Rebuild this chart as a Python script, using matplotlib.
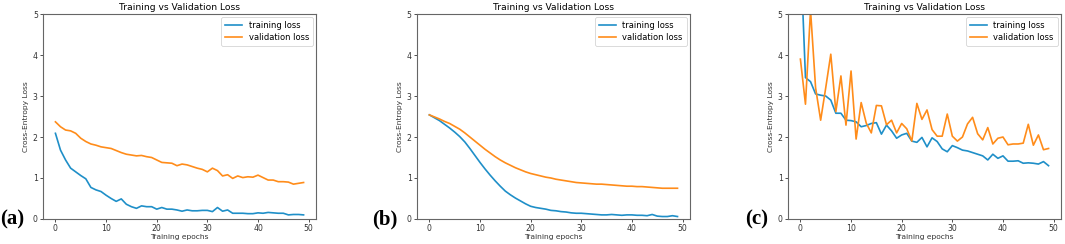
import numpy as np
import matplotlib
matplotlib.use("Agg")
import matplotlib.pyplot as plt

epochs = list(range(50))

train_a = [2.09, 1.68, 1.44, 1.24, 1.15, 1.06, 0.98, 0.77, 0.71, 0.67,
           0.58, 0.50, 0.43, 0.49, 0.36, 0.30, 0.26, 0.32, 0.30, 0.30,
           0.24, 0.28, 0.24, 0.24, 0.22, 0.19, 0.22, 0.20, 0.20, 0.21,
           0.21, 0.18, 0.28, 0.19, 0.22, 0.14, 0.14, 0.14, 0.13, 0.13,
           0.15, 0.14, 0.16, 0.15, 0.14, 0.14, 0.10, 0.11, 0.11, 0.10]
val_a = [2.37, 2.25, 2.17, 2.15, 2.09, 1.97, 1.89, 1.83, 1.80, 1.76,
         1.74, 1.72, 1.67, 1.62, 1.58, 1.56, 1.54, 1.55, 1.52, 1.50,
         1.44, 1.38, 1.37, 1.36, 1.30, 1.34, 1.32, 1.28, 1.24, 1.21,
         1.15, 1.24, 1.18, 1.05, 1.08, 0.99, 1.05, 1.01, 1.03, 1.02,
         1.07, 1.01, 0.95, 0.95, 0.91, 0.91, 0.90, 0.85, 0.87, 0.89]

train_b = [2.54, 2.47, 2.40, 2.31, 2.22, 2.12, 2.01, 1.88, 1.72, 1.55,
           1.38, 1.22, 1.07, 0.93, 0.80, 0.68, 0.59, 0.51, 0.44, 0.37,
           0.31, 0.28, 0.26, 0.24, 0.21, 0.20, 0.18, 0.17, 0.15, 0.14,
           0.14, 0.13, 0.12, 0.11, 0.10, 0.10, 0.11, 0.10, 0.09, 0.10,
           0.10, 0.09, 0.09, 0.08, 0.11, 0.07, 0.06, 0.06, 0.08, 0.06]
val_b = [2.54, 2.49, 2.44, 2.38, 2.33, 2.26, 2.19, 2.10, 2.00, 1.90,
         1.80, 1.70, 1.61, 1.52, 1.44, 1.37, 1.31, 1.25, 1.20, 1.15,
         1.11, 1.08, 1.05, 1.02, 1.00, 0.97, 0.95, 0.93, 0.91, 0.89,
         0.88, 0.87, 0.86, 0.85, 0.85, 0.84, 0.83, 0.82, 0.81, 0.80,
         0.80, 0.79, 0.79, 0.78, 0.77, 0.76, 0.75, 0.75, 0.75, 0.75]

train_c = [6.6, 3.45, 3.35, 3.05, 3.02, 3.00, 2.90, 2.58, 2.58, 2.41,
           2.40, 2.37, 2.25, 2.28, 2.33, 2.35, 2.07, 2.29, 2.15, 1.97,
           2.05, 2.09, 1.90, 1.87, 1.99, 1.76, 1.98, 1.89, 1.71, 1.64,
           1.79, 1.74, 1.68, 1.66, 1.62, 1.58, 1.54, 1.44, 1.58, 1.48,
           1.54, 1.41, 1.41, 1.42, 1.36, 1.37, 1.36, 1.34, 1.40, 1.30]
val_c = [3.90, 2.80, 5.10, 3.20, 2.41, 3.20, 4.02, 2.62, 3.49, 2.29,
         3.61, 1.95, 2.84, 2.34, 2.10, 2.77, 2.76, 2.30, 2.41, 2.10,
         2.33, 2.20, 1.90, 2.82, 2.43, 2.66, 2.18, 2.02, 2.02, 2.56,
         2.02, 1.90, 2.00, 2.32, 2.48, 2.08, 1.93, 2.23, 1.83, 1.97,
         2.00, 1.81, 1.83, 1.83, 1.85, 2.31, 1.80, 2.05, 1.69, 1.72]

panels = [("(a)", train_a, val_a), ("(b)", train_b, val_b), ("(c)", train_c, val_c)]
lefts = [0.0404, 0.3915, 0.7399]
label_x = [0.0, 0.349, 0.6995]

fig = plt.figure(figsize=(10.65, 2.44), dpi=100)
blue = "#1f8fc8"
orange = "#ff8c1a"
for i, (lab, tr, va) in enumerate(panels):
    ax = fig.add_axes([lefts[i], 0.1025, 0.2563, 0.840])
    ax.plot(epochs, tr, color=blue, lw=1.2, label="training loss")
    ax.plot(epochs, va, color=orange, lw=1.2, label="validation loss")
    ax.set_ylim(0, 5)
    ax.set_xticks([0, 10, 20, 30, 40, 50])
    ax.set_yticks([0, 1, 2, 3, 4, 5])
    ax.tick_params(labelsize=5.6, length=2, width=0.6, pad=1.8, colors="#333333")
    ax.set_title("Training vs Validation Loss", fontsize=6.6, pad=3)
    ax.set_xlabel("Training epochs", fontsize=5.4, labelpad=0.5, color="#333333")
    ax.set_ylabel("Cross-Entropy Loss", fontsize=5.4, labelpad=3, color="#333333")
    for s in ax.spines.values():
        s.set_color("#666666")
        s.set_linewidth(0.8)
    leg = ax.legend(loc="upper right", fontsize=6.0, handlelength=2.0,
                    borderpad=0.45, labelspacing=0.35, framealpha=1,
                    borderaxespad=0.4)
    leg.get_frame().set_linewidth(0.5)
    fig.text(label_x[i], 0.082, lab, fontsize=15, fontweight="bold",
             family=["Liberation Serif", "DejaVu Serif"], va="baseline", ha="left")

fig.savefig("out.png", dpi=100)
